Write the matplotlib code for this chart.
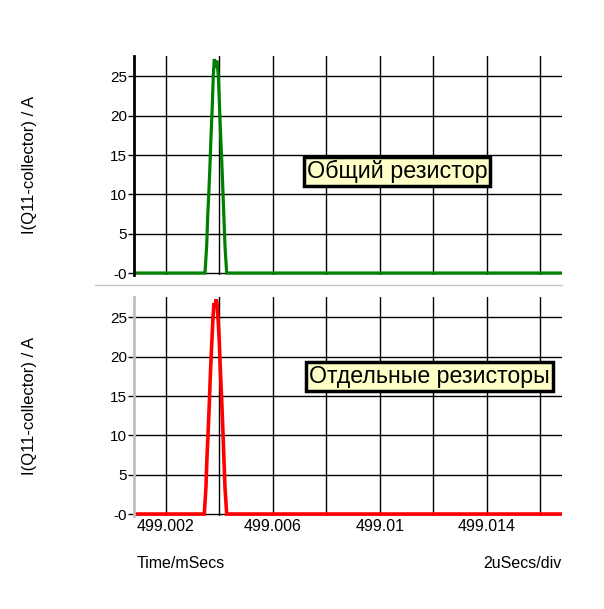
import matplotlib
matplotlib.use('Agg')
import matplotlib.pyplot as plt
from matplotlib.lines import Line2D

plt.rcParams['font.family'] = ['Liberation Sans', 'DejaVu Sans']

# ---- data ----
time_common = [499.000804, 499.003458, 499.003521, 499.003559, 499.003596, 499.003645,
               499.003682, 499.003731, 499.003768, 499.003805, 499.003858, 499.003906,
               499.003955, 499.003992, 499.004030, 499.004082, 499.004131, 499.004168,
               499.004205, 499.004269, 499.016804]
current_common = [0, 0, 3.45, 7.2, 9.8, 13.8, 17.3, 21.3, 25.1, 27.2, 26.6, 27.0,
                  25.1, 22.0, 18.6, 14.4, 10.2, 6.8, 3.45, 0, 0]

time_separate = [499.000804, 499.003432, 499.003495, 499.003533, 499.003570, 499.003619,
                 499.003656, 499.003708, 499.003757, 499.003794, 499.003832, 499.003869,
                 499.003906, 499.003944, 499.003992, 499.004030, 499.004082, 499.004131,
                 499.004168, 499.004205, 499.004269, 499.016804]
current_separate = [0, 0, 3.5, 7.3, 10.0, 14.0, 17.5, 21.5, 25.0, 26.8, 26.3, 27.3,
                    26.8, 25.0, 22.0, 18.5, 14.5, 10.3, 6.8, 3.4, 0, 0]

y_ticks = [0, 5, 10, 15, 20, 25]
y_tick_labels = ['-0', '5', '10', '15', '20', '25']
x_ticks = [499.002, 499.004, 499.006, 499.008, 499.010, 499.012, 499.014, 499.016]
x_tick_labels = ['499.002', '', '499.006', '', '499.01', '', '499.014', '']
x_range = (499.000804, 499.016804)
y_range = (-0.25, 27.6)

W, H = 604, 609
fig = plt.figure(figsize=(W / 100, H / 100), dpi=100)


def px_axes(left, top, right, bottom):
    return fig.add_axes([left / W, 1 - bottom / H, (right - left) / W, (bottom - top) / H])


def style(ax, spine_color):
    ax.set_xlim(*x_range)
    ax.set_ylim(*y_range)
    for s in ['top', 'right', 'bottom']:
        ax.spines[s].set_visible(False)
    ax.spines['left'].set_color(spine_color)
    ax.spines['left'].set_linewidth(2)
    ax.set_yticks(y_ticks)
    ax.set_yticklabels(y_tick_labels)
    ax.set_xticks(x_ticks)
    ax.grid(True, color='black', linewidth=1)
    ax.set_axisbelow(True)
    ax.tick_params(axis='y', length=4, width=1, color='black', pad=1, labelsize=11)
    ax.tick_params(axis='x', length=0, pad=2, labelsize=11.5)


ax1 = px_axes(134, 56, 562, 275)
style(ax1, 'black')
ax1.set_xticklabels([])
ax1.plot(time_common, current_common, color='#008000', linewidth=2.3, solid_joinstyle='miter')
ax1.text(0.404, 0.473, 'Общий резистор', transform=ax1.transAxes, fontsize=16.8,
         ha='left', va='center',
         bbox=dict(boxstyle='square,pad=0.12', fc='#FFFFC8', ec='black', lw=2.5))

ax2 = px_axes(134, 297, 562, 516)
style(ax2, '#c0c0c0')
ax2.set_xticklabels(x_tick_labels)
ax2.plot(time_separate, current_separate, color='#FF0000', linewidth=2.6, solid_joinstyle='miter')
ax2.text(0.409, 0.637, 'Отдельные резисторы', transform=ax2.transAxes, fontsize=16.7,
         ha='left', va='center',
         bbox=dict(boxstyle='square,pad=0.12', fc='#FFFFC8', ec='black', lw=2.5))

fig.add_artist(Line2D([95 / W, 562 / W], [1 - 285 / H, 1 - 285 / H], color='#c8c8c8', lw=1))

fig.text(30 / W, 1 - 165 / H, 'I(Q11-collector) / A', rotation=90, ha='center', va='center', fontsize=12)
fig.text(30 / W, 1 - 406 / H, 'I(Q11-collector) / A', rotation=90, ha='center', va='center', fontsize=12)
fig.text(137 / W, 1 - 563 / H, 'Time/mSecs', ha='left', va='center', fontsize=11.5)
fig.text(562 / W, 1 - 563 / H, '2uSecs/div', ha='right', va='center', fontsize=11.5)

fig.savefig('out.png', dpi=100, facecolor='white')
